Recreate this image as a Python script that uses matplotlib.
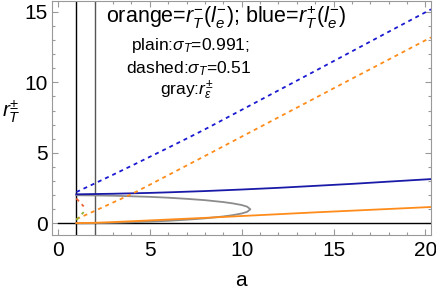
import matplotlib
matplotlib.use("Agg")
from matplotlib import pyplot as plt
from matplotlib.ticker import MultipleLocator

plt.rcParams['font.family'] = ['Liberation Sans', 'DejaVu Sans']
plt.rcParams['mathtext.fontset'] = 'custom'
plt.rcParams['mathtext.rm'] = 'Liberation Sans'
plt.rcParams['mathtext.it'] = 'Liberation Sans:italic'

# solid curves (sigma_T = 0.991)
a_solid = [1, 2, 3, 4, 5, 6, 8, 10, 12, 14, 16, 18, 20.3]
blue_solid = [2.06, 2.08, 2.10, 2.13, 2.16, 2.20, 2.29, 2.40, 2.52, 2.66, 2.80, 2.96, 3.14]
orange_solid = [0.02, 0.04, 0.09, 0.15, 0.21, 0.27, 0.39, 0.52, 0.65, 0.78, 0.90, 1.02, 1.16]

# dashed curves (sigma_T = 0.51)
a_dash = [1, 2, 3, 4, 5, 6, 7, 8, 10, 12, 14, 16, 18, 20.3]
blue_dash = [2.22, 2.83, 3.45, 4.08, 4.72, 5.36, 6.01, 6.67, 8.05, 9.43, 10.81, 12.2, 13.59, 15.18]
orange_dash = [0.30, 0.88, 1.48, 2.07, 2.74, 3.42, 4.10, 4.78, 6.15, 7.52, 8.89, 10.26, 11.62, 13.19]

# gray loop r_eps (upper branch out, lower branch back)
a_gray = [1, 2, 3, 4, 5, 6, 7, 8, 9, 9.5, 10, 10.3, 10.47,
          10.3, 10, 9.5, 9, 8, 7, 6, 5, 4, 3, 2, 1]
r_gray = [1.995, 1.98, 1.96, 1.92, 1.88, 1.82, 1.74, 1.645, 1.51, 1.42, 1.30, 1.18, 1.0,
          0.82, 0.70, 0.58, 0.49, 0.355, 0.26, 0.18, 0.12, 0.08, 0.04, 0.02, 0.005]

# short dashed pieces near a = 1
a_red = [1.0, 1.4]
r_red = [1.77, 1.2]
a_green = [1.0, 1.4]
r_green = [0.23, 0.8]

fig = plt.figure(figsize=(4.36, 2.92), dpi=100)
ax = fig.add_axes([0.119, 0.195, 0.8695, 0.803])

ax.axvline(1, color='black', lw=1.0)
ax.axvline(2, color='#555555', lw=1.0)
ax.plot([0, 20.3], [0, 0], color='black', lw=1.0)

ax.plot(a_gray, r_gray, color='#8c8c8c', lw=1.3)
ax.plot(a_solid, blue_solid, color='#1a1aa8', lw=1.3)
ax.plot(a_solid, orange_solid, color='#ff8c1a', lw=1.3)

dash = (0, (2.2, 2.2))
ax.plot(a_dash, blue_dash, color='#1a1ad0', lw=1.3, linestyle=dash)
ax.plot(a_dash, orange_dash, color='#ff8c1a', lw=1.3, linestyle=dash)
ax.plot(a_red, r_red, color='#eb6235', lw=1.3, linestyle=dash)
ax.plot(a_green, r_green, color='#8fb032', lw=1.3, linestyle=dash)

ax.set_xlim(-0.33, 20.3)
ax.set_ylim(-0.83, 15.8)

ax.xaxis.set_major_locator(MultipleLocator(5))
ax.xaxis.set_minor_locator(MultipleLocator(1))
ax.yaxis.set_major_locator(MultipleLocator(5))
ax.yaxis.set_minor_locator(MultipleLocator(1))
ax.tick_params(which='both', direction='in', top=True, right=True,
               color='#999999', labelsize=15, width=0.8)
ax.tick_params(which='major', length=4)
ax.tick_params(which='minor', length=2)
ax.tick_params(axis='x', which='major', pad=4)
ax.tick_params(axis='y', which='major', pad=3)
for sp in ax.spines.values():
    sp.set_color('#999999')

# axis labels placed like the original
fig.text(241 / 436, 1 - 280 / 292, 'a', fontsize=15, ha='center', va='center')
fig.text(11 / 436, 1 - 112 / 292, r'$r_T^{\pm}$', fontsize=15, ha='center', va='center')

ax.text(0.46, 0.928, r'orange=$r_T^{-}(l_e^{-})$; blue=$r_T^{+}(l_e^{-})$',
        transform=ax.transAxes, fontsize=15.5, ha='center', va='center')
ax.text(0.365, 0.81, r'plain:$\sigma_T$=0.991;', transform=ax.transAxes,
        fontsize=12.5, ha='center', va='center')
ax.text(0.36, 0.71, r'dashed:$\sigma_T$=0.51', transform=ax.transAxes,
        fontsize=12.5, ha='center', va='center')
ax.text(0.355, 0.617, r'gray:$r_\epsilon^{\pm}$', transform=ax.transAxes,
        fontsize=12.5, ha='center', va='center')

fig.savefig('out.png', dpi=100)
